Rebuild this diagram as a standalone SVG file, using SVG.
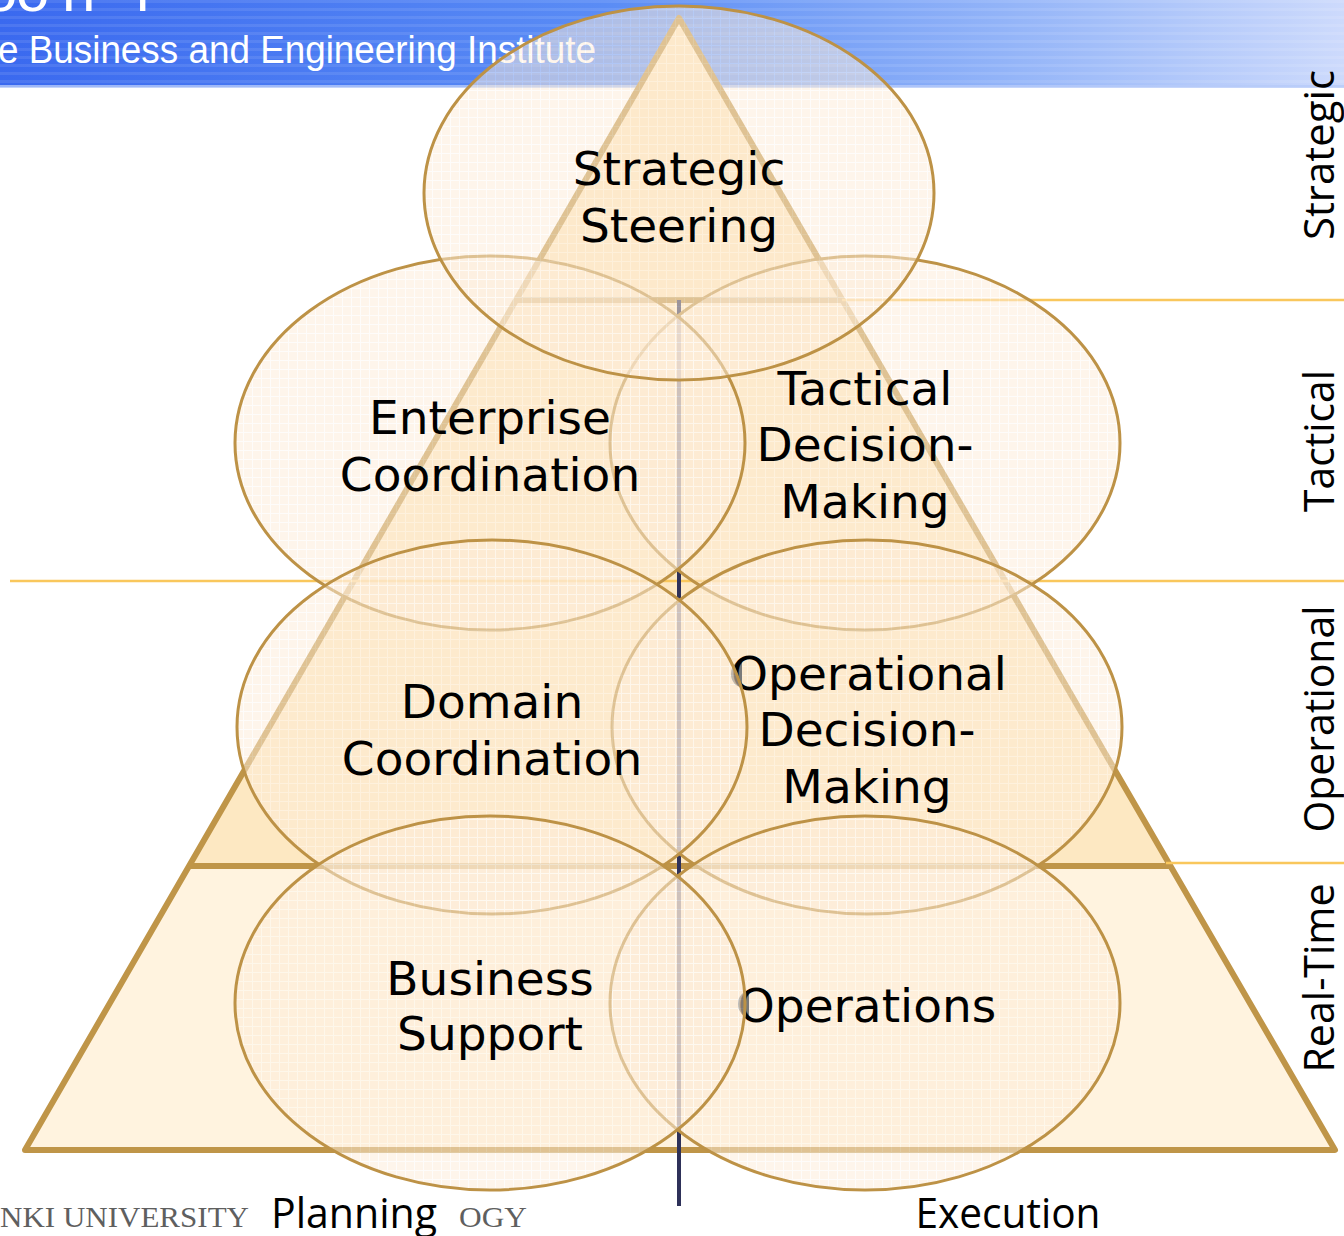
<svg xmlns="http://www.w3.org/2000/svg" width="1344" height="1236" viewBox="0 0 1344 1236">
<defs>
<linearGradient id="hdr" x1="0" y1="0" x2="1" y2="0">
<stop offset="0" stop-color="#3a69ef"/>
<stop offset="0.45" stop-color="#5a8cf5"/>
<stop offset="0.75" stop-color="#93b4f8"/>
<stop offset="1" stop-color="#cddafc"/>
</linearGradient>
<pattern id="stripes" width="8" height="8" patternUnits="userSpaceOnUse">
<rect y="0" width="8" height="3" fill="#ffffff" opacity="0.09"/>
</pattern>
<pattern id="grid" width="9" height="9" patternUnits="userSpaceOnUse">
<rect width="9" height="9" fill="#fdecd8"/>
<path d="M0 0.5H9M0.5 0V9" stroke="#ffffff" stroke-width="1" opacity="0.75"/>
</pattern>
<style>
.ell { fill: url(#grid); fill-opacity: 0.52; stroke: #bd9246; stroke-width: 3; }
.lbl { font-family: "DejaVu Sans", Verdana, sans-serif; font-size: 47px; fill: #000; text-anchor: middle; }
.side { font-family: "Open Sans", "Liberation Sans", sans-serif; font-size: 42px; fill: #000; text-anchor: middle; }
.sep { stroke: #f9c75c; stroke-width: 2.5; fill: none; }
.pyr { stroke: #bf9548; stroke-width: 6; stroke-linejoin: round; fill: none; }
.serif { font-family: "Liberation Serif", "Times New Roman", serif; font-size: 30px; fill: #5f5f5f; }
.blob { fill: #7a7a7a; }
</style>
</defs>

<g id="header">
<rect x="0" y="0" width="1344" height="87" fill="url(#hdr)"/>
<rect x="0" y="0" width="1344" height="87" fill="url(#stripes)"/>
<rect x="0" y="85" width="1344" height="3" fill="#b6cbf9" opacity="0.8"/>
<text font-family="'Liberation Sans', Arial, sans-serif" font-size="60" fill="#ffffff"><tspan x="-16" y="11">o</tspan><tspan x="16" y="11">o</tspan><tspan x="62" y="11">n</tspan><tspan x="136" y="11">l</tspan></text>
<text x="-2" y="63" font-family="'Liberation Sans', Arial, sans-serif" font-size="38" fill="#ffffff" textLength="598" lengthAdjust="spacingAndGlyphs">e Business and Engineering Institute</text>
</g>

<g id="pyramid">
<polygon points="679,18 842,300 516,300" fill="#fde6bd"/>
<polygon points="516,300 842,300 1169,866 189,866" fill="#fde8c2"/>
<polygon points="189,866 1169,866 1335,1150 25,1150" fill="#fff3df"/>
<polygon class="pyr" points="679,18 1335,1150 25,1150"/>
<line class="pyr" x1="516" y1="300" x2="842" y2="300" stroke-width="5"/>
<line class="pyr" x1="189" y1="866" x2="1169" y2="866" stroke-width="5"/>
</g>

<g id="separators">
<line class="sep" x1="842" y1="300" x2="1344" y2="300"/>
<line class="sep" x1="10" y1="581" x2="1344" y2="581"/>
<line class="sep" x1="1166" y1="863" x2="1344" y2="863"/>
<line x1="679" y1="300" x2="679" y2="1206" stroke="#2e3159" stroke-width="4"/>
</g>

<g id="tactical-decision-making">
<ellipse class="ell" cx="865" cy="443" rx="255" ry="187"/>
<text class="lbl"><tspan x="865" y="405">Tactical</tspan><tspan x="865" y="461">Decision-</tspan><tspan x="865" y="518">Making</tspan></text>
</g>

<g id="enterprise-coordination">
<ellipse class="ell" cx="490" cy="443" rx="255" ry="187"/>
<text class="lbl"><tspan x="490" y="434">Enterprise</tspan><tspan x="490" y="491">Coordination</tspan></text>
</g>

<g id="strategic-steering">
<ellipse class="ell" cx="679" cy="193" rx="255" ry="187"/>
<text class="lbl"><tspan x="679" y="185">Strategic</tspan><tspan x="679" y="242">Steering</tspan></text>
</g>

<g id="operational-decision-making">
<ellipse class="ell" cx="867" cy="727" rx="255" ry="187"/>
<path class="blob" d="M742,661 A11,13 0 0 0 742,687 Z"/>
<text class="lbl"><tspan x="869" y="690">Operational</tspan><tspan x="867" y="746">Decision-</tspan><tspan x="867" y="803">Making</tspan></text>
</g>

<g id="domain-coordination">
<ellipse class="ell" cx="492" cy="727" rx="255" ry="187"/>
<text class="lbl"><tspan x="492" y="718">Domain</tspan><tspan x="492" y="775">Coordination</tspan></text>
</g>

<g id="operations">
<ellipse class="ell" cx="865" cy="1003" rx="255" ry="187"/>
<path class="blob" d="M749,991 A11,13 0 0 0 749,1017 Z"/>
<text class="lbl" x="867" y="1022">Operations</text>
</g>

<g id="business-support">
<ellipse class="ell" cx="490" cy="1003" rx="255" ry="187"/>
<text class="lbl"><tspan x="490" y="995">Business</tspan><tspan x="490" y="1050">Support</tspan></text>
</g>

<g id="level-labels">
<text class="side" transform="translate(1334,155) rotate(-90)" textLength="170" lengthAdjust="spacingAndGlyphs">Strategic</text>
<text class="side" transform="translate(1334,441) rotate(-90)" textLength="142" lengthAdjust="spacingAndGlyphs">Tactical</text>
<text class="side" transform="translate(1334,719) rotate(-90)" textLength="227" lengthAdjust="spacingAndGlyphs">Operational</text>
<text class="side" transform="translate(1334,978) rotate(-90)" textLength="189" lengthAdjust="spacingAndGlyphs">Real-Time</text>
</g>

<g id="footer">
<text class="serif" x="0" y="1227" textLength="249" lengthAdjust="spacingAndGlyphs">NKI UNIVERSITY</text>
<text class="serif" x="459" y="1227" textLength="68" lengthAdjust="spacingAndGlyphs">OGY</text>
<text class="side" x="354" y="1228" font-size="40" textLength="166" lengthAdjust="spacingAndGlyphs">Planning</text>
<text class="side" x="1008" y="1228" font-size="40" textLength="185" lengthAdjust="spacingAndGlyphs">Execution</text>
</g>
</svg>
